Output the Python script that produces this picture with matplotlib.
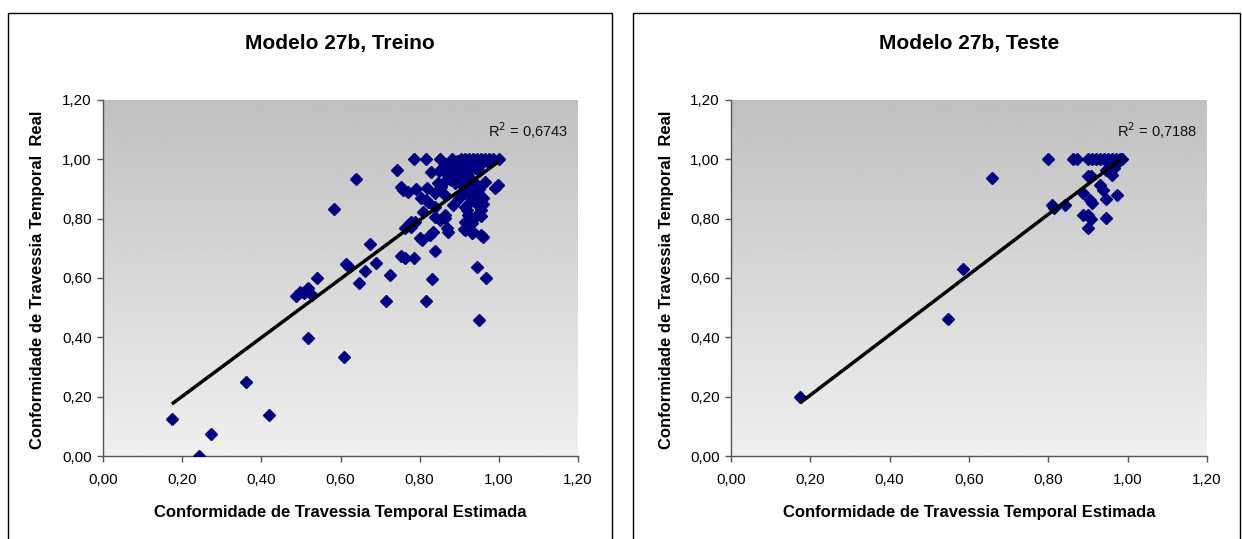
import numpy as np
import matplotlib
matplotlib.use("Agg")
import matplotlib.pyplot as plt
from matplotlib.ticker import FuncFormatter, MultipleLocator
from matplotlib.patches import Rectangle

plt.rcParams['font.family'] = ['Liberation Sans', 'DejaVu Sans']

# dados de treino (estimado x real)
treino_est = [0.174, 0.274, 0.243, 0.360, 0.419, 0.517, 0.610,
              0.487, 0.498, 0.508, 0.517, 0.527, 0.540,
              0.614, 0.622, 0.646, 0.662, 0.674, 0.689, 0.715, 0.726, 0.752, 0.762,
              0.583, 0.639, 0.762, 0.775, 0.758, 0.770,
              0.785, 0.815, 0.851, 0.882,
              0.905, 0.915, 0.925, 0.935, 0.945, 0.955, 0.965, 0.975, 0.985, 1.000, 0.940, 0.960,
              0.742, 0.828, 0.753, 0.791, 0.819,
              0.804, 0.817, 0.838, 0.846,
              0.808, 0.779, 0.787, 0.779,
              0.838, 0.851, 0.863,
              0.800, 0.806, 0.825, 0.834, 0.868, 0.872,
              0.912, 0.931, 0.959, 0.956,
              0.838, 0.785, 0.830, 0.945, 0.967, 0.815, 0.950,
              0.990, 0.998, 0.965,
              0.864, 0.880, 0.906, 0.923, 0.940, 0.956, 0.973,
              0.880, 0.897, 0.914, 0.931, 0.855,
              0.864, 0.914, 0.931, 0.948,
              0.821, 0.838, 0.885, 0.914, 0.948, 0.956,
              0.923, 0.944, 0.864, 0.914, 0.931, 0.914, 0.935,
              0.890, 0.900, 0.920, 0.930, 0.950, 0.870, 0.890, 0.910, 0.925, 0.940,
              0.950, 0.960, 0.945, 0.930, 0.955, 0.960, 0.900, 0.920, 0.860, 0.850,
              0.870, 0.895]
treino_real = [0.125, 0.074, 0.000, 0.250, 0.139, 0.398, 0.333,
               0.539, 0.554, 0.548, 0.565, 0.543, 0.599,
               0.647, 0.638, 0.584, 0.624, 0.714, 0.652, 0.524, 0.610, 0.675, 0.666,
               0.832, 0.935, 0.767, 0.784, 0.897, 0.891,
               1.000, 1.000, 1.000, 1.000,
               1.000, 1.000, 1.000, 1.000, 1.000, 1.000, 1.000, 1.000, 1.000, 1.000, 0.995, 0.990,
               0.964, 0.958, 0.908, 0.899, 0.902,
               0.868, 0.863, 0.885, 0.919,
               0.823, 0.790, 0.790, 0.773,
               0.807, 0.795, 0.812,
               0.734, 0.728, 0.745, 0.756, 0.767, 0.756,
               0.764, 0.753, 0.739, 0.745,
               0.691, 0.666, 0.596, 0.637, 0.601, 0.524, 0.458,
               0.902, 0.913, 0.925,
               0.970, 0.964, 0.975, 0.964, 0.970, 0.986, 0.992,
               0.930, 0.941, 0.936, 0.930, 0.908,
               0.880, 0.885, 0.874, 0.885,
               0.857, 0.840, 0.846, 0.840, 0.846, 0.829,
               0.812, 0.812, 0.801, 0.790, 0.784, 0.762, 0.756,
               0.980, 0.955, 0.950, 0.985, 0.960, 0.950, 0.920, 0.910, 0.900, 0.920,
               0.900, 0.870, 0.860, 0.860, 0.810, 0.850, 0.870, 0.830, 0.920, 0.960,
               0.985, 0.995]

# dados de teste
teste_est = [0.174, 0.547, 0.585, 0.658, 0.800, 0.810, 0.815, 0.842,
             0.862, 0.872, 0.887, 0.887, 0.900, 0.907,
             0.900, 0.910, 0.920, 0.930, 0.940, 0.950, 0.960, 0.970, 0.980,
             0.905, 0.910, 0.900, 0.907, 0.900, 0.930, 0.938,
             0.945, 0.945, 0.945, 0.960, 0.965, 0.973, 0.975, 0.985]
teste_real = [0.199, 0.462, 0.630, 0.937, 1.000, 0.845, 0.835, 0.845,
              1.000, 1.000, 0.886, 0.812, 0.945, 0.944,
              1.000, 1.000, 1.000, 1.000, 1.000, 1.000, 1.000, 1.000, 1.000,
              0.863, 0.853, 0.812, 0.800, 0.768, 0.913, 0.896,
              0.964, 0.866, 0.802, 0.947, 0.970, 0.880, 0.990, 1.000]

# linhas de tendencia (inclinacao, intercepto) e R2
treino_fit = (0.990, 0.003)
teste_fit = (1.016, 0.002)
treino_r2 = "0,6743"
teste_r2 = "0,7188"

W, H = 1242, 539
fig = plt.figure(figsize=(W / 100, H / 100), dpi=100)

# molduras dos dois graficos
for x0, x1 in [(8, 612), (633, 1240)]:
    fig.add_artist(Rectangle((x0 / W, -0.05), (x1 - x0) / W, 1 - 13 / H + 0.05,
                             transform=fig.transFigure, fill=False,
                             edgecolor='black', linewidth=1.0))

fmt = FuncFormatter(lambda v, p: f"{v:.2f}".replace('.', ','))
grad = np.linspace(0, 1, 256).reshape(-1, 1)


def painel(px0, px1, titulo, est, real, fit, r2, tx, ylab_x, cx):
    ax = fig.add_axes([px0 / W, 1 - 456 / H, (px1 - px0) / W, 356 / H])
    ax.set_xlim(0, 1.2)
    ax.set_ylim(0, 1.2)
    # fundo em degrade cinza, mais escuro no topo
    ax.imshow(grad, extent=[0, 1.2, 0, 1.2], aspect='auto', cmap='gray',
              vmin=-4.0, vmax=1.32, origin='upper', zorder=0)
    ax.plot(est, real, ls='none', marker='D', ms=5.8, color='#000080',
            mec='#000080', zorder=3)
    xs = np.array([min(est), max(est)])
    ax.plot(xs, fit[0] * xs + fit[1], color='black', lw=2.5, zorder=4,
            solid_capstyle='butt')
    ax.xaxis.set_major_locator(MultipleLocator(0.2))
    ax.yaxis.set_major_locator(MultipleLocator(0.2))
    ax.xaxis.set_major_formatter(fmt)
    ax.yaxis.set_major_formatter(fmt)
    for s in ['top', 'right']:
        ax.spines[s].set_visible(False)
    for s in ['left', 'bottom']:
        ax.spines[s].set_color('#555555')
        ax.spines[s].set_linewidth(1.0)
    ax.tick_params(direction='out', length=4, width=1, color='#555555',
                   labelsize=11, pad=4)
    ax.tick_params(axis='x', pad=8)
    ax.text(tx, 1.097, "R$^2$ = " + r2, ha='right', va='center', fontsize=10.5,
            color='#111111', zorder=5)
    fig.text(cx / W, 1 - 43 / H, titulo, ha='center', va='center',
             fontsize=15, fontweight='bold')
    fig.text(cx / W, 1 - 512 / H, "Conformidade de Travessia Temporal Estimada",
             ha='center', va='center', fontsize=12, fontweight='bold')
    fig.text(ylab_x / W, 1 - 280 / H, "Conformidade de Travessia Temporal  Real",
             ha='center', va='center', rotation=90, fontsize=12,
             fontweight='bold')
    return ax


painel(103, 578, "Modelo 27b, Treino", treino_est, treino_real,
       treino_fit, treino_r2, 1.175, 38, 340)
painel(731, 1207, "Modelo 27b, Teste", teste_est, teste_real,
       teste_fit, teste_r2, 1.175, 666, 969)

fig.savefig("out.png", dpi=100)
